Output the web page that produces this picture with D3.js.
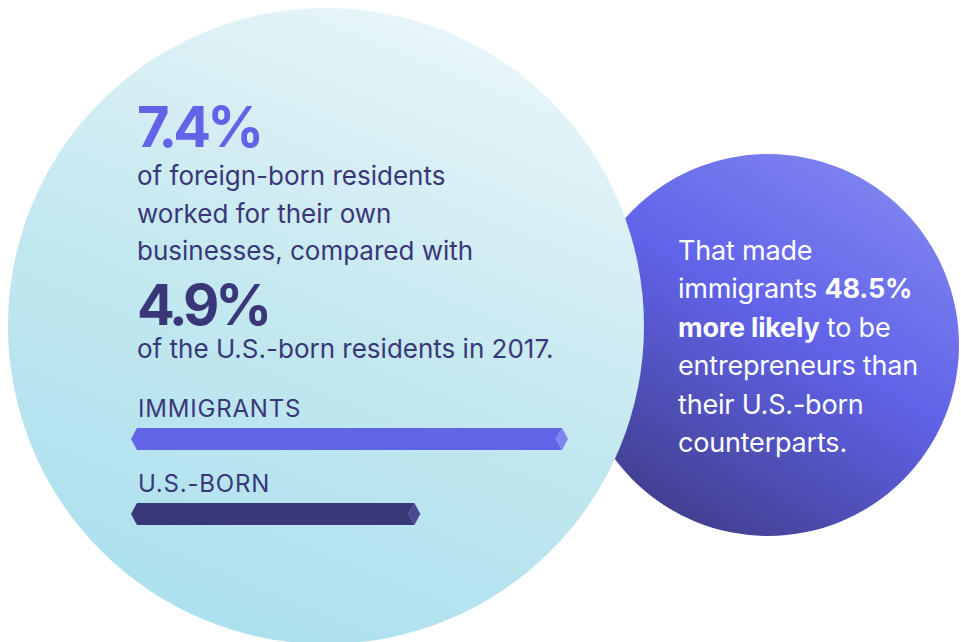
<!DOCTYPE html>
<html>
<head>
<meta charset="utf-8">
<script src="https://cdn.jsdelivr.net/npm/d3@7"></script>
<style>
  html, body { margin: 0; padding: 0; background: #fff; }
  svg { display: block; }
</style>
</head>
<body>
<div id="chart"></div>
<script>
// ---- Data ----
const groups = ["IMMIGRANTS", "U.S.-BORN"];
const shares = [7.4, 4.9];            // % of residents self-employed, 2017
const headline = ["7.4%", "4.9%"];
const bodyTop = ["of foreign-born residents", "worked for their own", "businesses, compared with"];
const bodyBottom = ["of the U.S.-born residents in 2017."];
const sideLines = [
  [["That made", false]],
  [["immigrants ", false], ["48.5%", true]],
  [["more likely", true], [" to be", false]],
  [["entrepreneurs than", false]],
  [["their U.S.-born", false]],
  [["counterparts.", false]]
];

const W = 961, H = 642;
const FONT = "Inter, 'Noto Sans', sans-serif";
const indigo = "#6264e8", navy = "#393778";
const barFill = [indigo, navy];
const capFill = ["#8083f0", "#4b4992"];

const svg = d3.select("#chart").append("svg")
  .attr("width", W).attr("height", H)
  .style("font-family", FONT);

const defs = svg.append("defs");

// light aqua bubble: paler at top-right
const gBig = defs.append("linearGradient").attr("id", "gBig")
  .attr("x1", 0.7).attr("y1", 0).attr("x2", 0.3).attr("y2", 1);
gBig.append("stop").attr("offset", 0).attr("stop-color", "#e9f6f9");
gBig.append("stop").attr("offset", 0.5).attr("stop-color", "#c4e8f0");
gBig.append("stop").attr("offset", 1).attr("stop-color", "#abe0ee");

// indigo bubble: light top-right, dark bottom-left
const gSmall = defs.append("linearGradient").attr("id", "gSmall")
  .attr("x1", 0.8).attr("y1", 0.05).attr("x2", 0.25).attr("y2", 0.95);
gSmall.append("stop").attr("offset", 0).attr("stop-color", "#7f84f0");
gSmall.append("stop").attr("offset", 0.45).attr("stop-color", "#6063e8");
gSmall.append("stop").attr("offset", 1).attr("stop-color", "#423f90");

// ---- Bubbles (small one sits behind) ----
svg.append("circle").attr("cx", 768).attr("cy", 345).attr("r", 191)
  .attr("fill", "url(#gSmall)");
svg.append("circle").attr("cx", 326).attr("cy", 326).attr("r", 318)
  .attr("fill", "url(#gBig)");

// ---- Left text block ----
const left = svg.append("g").attr("transform", "translate(137,0)");

left.append("text").attr("y", 147)
  .attr("font-size", 56).attr("font-weight", 700).attr("letter-spacing", -4)
  .attr("fill", indigo).text(headline[0]);

left.selectAll(".bodyTop").data(bodyTop).join("text")
  .attr("class", "bodyTop")
  .attr("y", (d, i) => 185 + i * 37.5)
  .attr("font-size", 26)
  .attr("fill", navy).text(d => d);

left.append("text").attr("y", 325)
  .attr("font-size", 56).attr("font-weight", 700).attr("letter-spacing", -4)
  .attr("fill", navy).text(headline[1]);

left.selectAll(".bodyBottom").data(bodyBottom).join("text")
  .attr("class", "bodyBottom")
  .attr("y", 358)
  .attr("font-size", 26)
  .attr("fill", navy).text(d => d);

// ---- Bars ----
const x = d3.scaleLinear().domain([0, d3.max(shares)]).range([131, 568]);
const barTop = [428, 503], barH = 22, tip = 6;

groups.forEach((g, i) => {
  const y0 = barTop[i], y1 = y0 + barH, ym = y0 + barH / 2;
  const x0 = x(0), xe = x(shares[i]);

  svg.append("text").attr("x", 138).attr("y", y0 - 11)
    .attr("font-size", 24).attr("letter-spacing", 0.8)
    .attr("fill", navy).text(g);

  // body: pointed left end, notched right end
  svg.append("path")
    .attr("d", `M${x0},${ym} L${x0 + tip},${y0} L${xe - tip},${y0} L${xe - 2 * tip},${ym} L${xe - tip},${y1} L${x0 + tip},${y1} Z`)
    .attr("fill", barFill[i]);
  // lighter end facet
  svg.append("path")
    .attr("d", `M${xe - tip},${y0} L${xe},${ym} L${xe - tip},${y1} L${xe - 2 * tip},${ym} Z`)
    .attr("fill", capFill[i]);
});

// ---- Right bubble text ----
const side = svg.append("text").attr("font-size", 27).attr("letter-spacing", -0.2)
  .attr("fill", "#fff");
sideLines.forEach((parts, i) => {
  parts.forEach(([t, bold], j) => {
    const ts = side.append("tspan").attr("font-weight", bold ? 700 : 400).text(t);
    if (j === 0) ts.attr("x", 678).attr("y", 260 + i * 38.4);
  });
});
</script>
</body>
</html>
